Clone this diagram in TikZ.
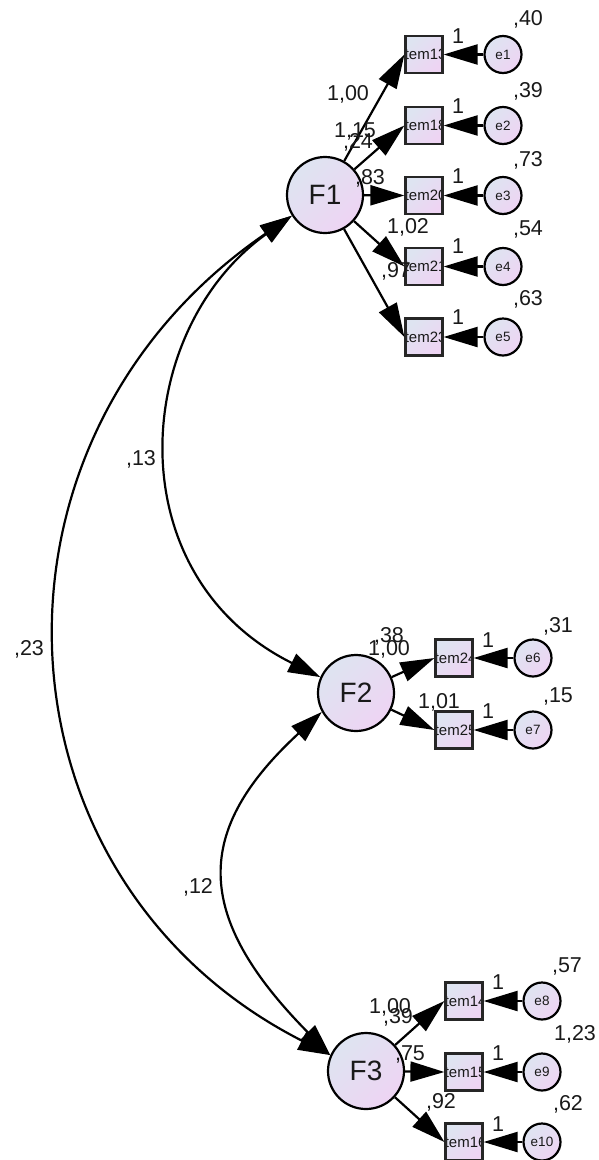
\documentclass[tikz,border=0pt]{standalone}
\usepackage{fontspec}
\setmainfont{Liberation Sans}
\usetikzlibrary{arrows.meta}
\definecolor{fillA}{RGB}{222,228,241}
\definecolor{fillB}{RGB}{238,212,243}
\definecolor{ink}{RGB}{25,25,25}
\begin{document}
\begin{tikzpicture}[x=1pt,y=-1pt,
  grad/.style={top color=fillA,bottom color=fillB,shading angle=45},
  latent/.style={circle,draw=black,line width=2.2pt,minimum size=76pt,inner sep=0pt,grad,
    font=\fontsize{28}{28}\selectfont,text=ink},
  err/.style={circle,draw=black,line width=2.2pt,minimum size=37pt,inner sep=0pt,grad,
    font=\fontsize{13.5}{13.5}\selectfont,text=ink},
  obs/.style={rectangle,draw=black!85,line width=2.2pt,minimum size=37pt,inner sep=0pt,grad,
    path picture={\node[font=\fontsize{15}{15}\selectfont,inner sep=0pt,text=ink]
      (txt-#1) at (path picture bounding box.center) {#1};}},
  arr/.style={line width=2.2pt,-{Triangle[length=34pt,width=20pt]}},
  cov/.style={line width=2.2pt,{Triangle[length=32pt,width=20pt]}-{Triangle[length=32pt,width=20pt]}},
  lbl/.style={anchor=base,inner sep=0pt,font=\fontsize{21.5}{21.5}\selectfont,text=ink},
]
\useasboundingbox (0,0) rectangle (598,1160);

% latent factors
\node[latent] (F1) at (325,195) {F1};
\node[latent] (F2) at (356,693) {F2};
\node[latent] (F3) at (366,1071) {F3};

% indicators of F1
\node[obs=item13] (i13) at (424,54.5) {};
\node[obs=item18] (i18) at (424,125.5) {};
\node[obs=item20] (i20) at (424,195.5) {};
\node[obs=item21] (i21) at (424,266.5) {};
\node[obs=item23] (i23) at (424,337) {};
\node[err] (e1) at (503,54.5) {e1};
\node[err] (e2) at (503,125.5) {e2};
\node[err] (e3) at (503,195.5) {e3};
\node[err] (e4) at (503,266.5) {e4};
\node[err] (e5) at (503,337) {e5};

% indicators of F2
\node[obs=item24] (i24) at (454,658) {};
\node[obs=item25] (i25) at (454,730) {};
\node[err] (e6) at (533,658) {e6};
\node[err] (e7) at (533,730) {e7};

% indicators of F3
\node[obs=item14] (i14) at (464,1001) {};
\node[obs=item15] (i15) at (464,1072) {};
\node[obs=item16] (i16) at (464,1142) {};
\node[err] (e8) at (542,1001) {e8};
\node[err] (e9) at (542,1072) {e9};
\node[err] (e10) at (542,1142) {e10};

% loadings
\foreach \i in {i13,i18,i20,i21,i23} \draw[arr] (F1) -- (\i.west);
\foreach \i in {i24,i25} \draw[arr] (F2) -- (\i.west);
\foreach \i in {i14,i15,i16} \draw[arr] (F3) -- (\i.west);

% error terms
\foreach \e/\i in {e1/i13,e2/i18,e3/i20,e4/i21,e5/i23,e6/i24,e7/i25,e8/i14,e9/i15,e10/i16}
  \draw[arr] (\e) -- (\i.east);

% covariances
\draw[cov] (F1.212) .. controls (132,330) and (115,575) .. (F2.156);
\draw[cov] (F1.212) .. controls (-36,440) and (-14,880) .. (F3.156);
\draw[cov] (F2.209) .. controls (194,830) and (192,915) .. (F3.156);

% estimates: F1 block
\node[lbl] (l1) at (348,100) {1,00};
\node[lbl] (l2) at (355,137) {1,15};
\node[lbl] (l3) at (358,148) {,24};
\node[lbl] (l4) at (370,184) {,83};
\node[lbl] (l5) at (408,233) {1,02};
\node[lbl] (l6) at (396,277) {,97};
\node[lbl] (v1) at (528,25) {,40};
\node[lbl] (v2) at (528,97) {,39};
\node[lbl] (v3) at (528,166) {,73};
\node[lbl] (v4) at (528,235) {,54};
\node[lbl] (v5) at (528,305) {,63};
\foreach \y [count=\k] in {43,113,183,253,324} \node[lbl] (w\k) at (458,\y) {1};

% estimates: F2 block
\node[lbl] (l7) at (389,642) {,38};
\node[lbl] (l8) at (389,655) {1,00};
\node[lbl] (l9) at (439,708) {1,01};
\node[lbl] (v6) at (558,632) {,31};
\node[lbl] (v7) at (558,702) {,15};
\node[lbl] (w6) at (488,647) {1};
\node[lbl] (w7) at (488,718) {1};

% estimates: F3 block
\node[lbl] (l10) at (390,1013) {1,00};
\node[lbl] (l11) at (398,1023) {,39};
\node[lbl] (l12) at (410,1060) {,75};
\node[lbl] (l13) at (441,1108) {,92};
\node[lbl] (v8) at (567,972) {,57};
\node[lbl] (v9) at (575,1040) {1,23};
\node[lbl] (v10) at (568,1110) {,62};
\node[lbl] (w8) at (498,989) {1};
\node[lbl] (w9) at (498,1060) {1};
\node[lbl] (w10) at (498,1131) {1};

% covariance estimates
\node[lbl] (c1) at (141,465) {,13};
\node[lbl] (c2) at (29,655) {,23};
\node[lbl] (c3) at (198,893) {,12};
\end{tikzpicture}
\end{document}
